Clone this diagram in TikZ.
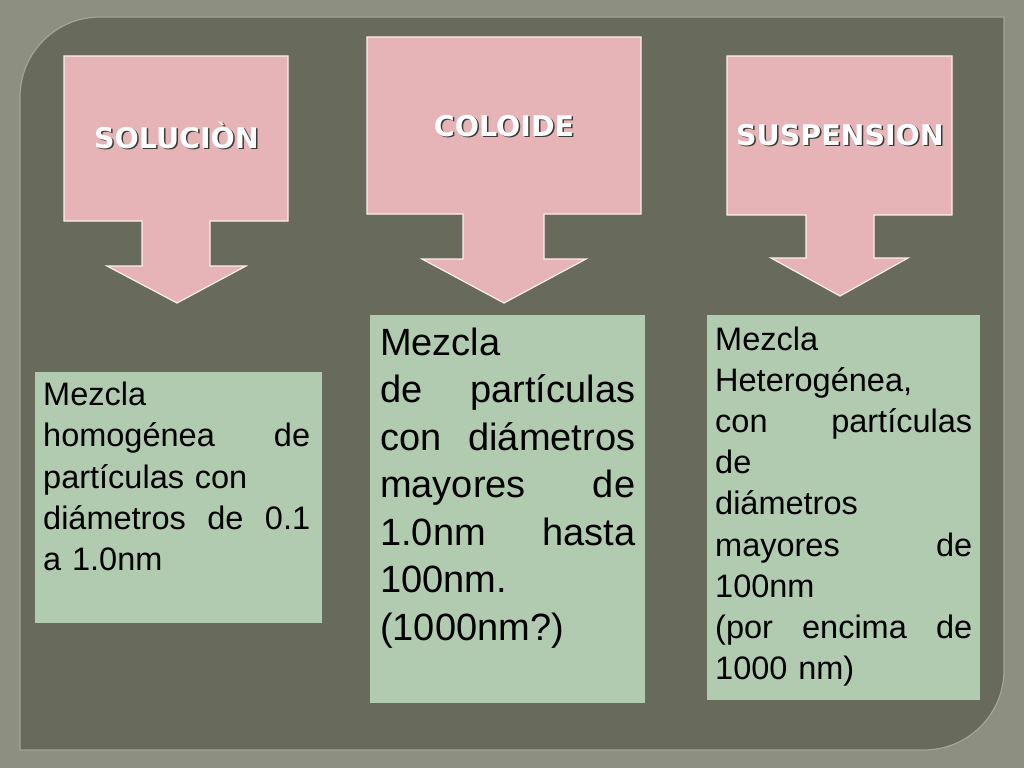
\documentclass[tikz,border=0pt]{standalone}
\usepackage{fontspec}
\setmainfont{Liberation Sans}
\newfontfamily\bodyfont{Liberation Sans}
\newfontfamily\titlefont{DejaVu Sans}
\definecolor{bgc}{HTML}{8D8F81}
\definecolor{panelc}{HTML}{686A5B}
\definecolor{rimc}{HTML}{A3A597}
\definecolor{pinkc}{HTML}{E6B4B7}
\definecolor{pinkline}{HTML}{FAEEEE}
\definecolor{greenc}{HTML}{B0CBAF}
\definecolor{shadowc}{HTML}{3A3A36}
\tikzset{
  callout/.style={fill=pinkc, draw=pinkline, line width=1.2pt, line join=miter},
  greenbox/.style={fill=greenc, draw=none, inner sep=0pt, anchor=north west},
  titletext/.style={text=white, inner sep=0pt, anchor=base, font=\titlefont\bfseries\fontsize{28.5}{32}\selectfont},
  titleshadow/.style={titletext, text=shadowc},
  bodytext/.style={inner sep=0pt, anchor=north west, align=left, text=black, font=\bodyfont\fontsize{32.5}{41.2}\selectfont},
  bigtext/.style={bodytext, font=\bodyfont\fontsize{38}{47.5}\selectfont}
}
\begin{document}
\begin{tikzpicture}[x=1pt,y=-1pt]
\useasboundingbox (0,0) rectangle (1024,768);
\fill[bgc] (0,0) rectangle (1024,768);
% panel
\path[fill=panelc, draw=rimc, line width=1.2pt]
  (100,17) -- (1004,17) -- (1004,670) arc[start angle=0,end angle=90,radius=80]
  -- (20,750) -- (20,97) arc[start angle=180,end angle=270,radius=80] -- cycle;
% callouts
\path[callout] (64,56) -- (288,56) -- (288,221) -- (210,221) -- (210,266) -- (246,266)
  -- (177,303) -- (107,266) -- (142,266) -- (142,221) -- (64,221) -- cycle;
\path[callout] (367,37) -- (641,37) -- (641,214) -- (544,214) -- (544,259) -- (586,259)
  -- (504,303) -- (422,259) -- (463,259) -- (463,214) -- (367,214) -- cycle;
\path[callout] (727,56) -- (952,56) -- (952,215) -- (874,215) -- (874,258) -- (908,258)
  -- (840,296) -- (771,258) -- (806,258) -- (806,215) -- (727,215) -- cycle;
% titles
\node[titleshadow] (tsolsh) at (178,149.5) {SOLUCIÒN};
\node[titletext] (tsol) at (176.5,148) {SOLUCIÒN};
\node[titleshadow] (tcolsh) at (505.5,137.5) {COLOIDE};
\node[titletext] (tcol) at (504,136) {COLOIDE};
\node[titleshadow] (tsussh) at (841.5,146.5) {SUSPENSION};
\node[titletext] (tsus) at (840,145) {SUSPENSION};
% green boxes
\node[greenbox, minimum width=287pt, minimum height=251pt] (bsol) at (35,372) {};
\node[greenbox, minimum width=275pt, minimum height=388pt] (bcol) at (370,315) {};
\node[greenbox, minimum width=273pt, minimum height=385pt] (bsus) at (707,315) {};
% texts
\node[bodytext, text width=267pt] (dsol) at (43,382) {Mezcla\\
homogénea\hfill de\\
partículas con\\
diámetros\hfill de\hfill 0.1\\
a 1.0nm};
\node[bigtext, text width=255pt] (dcol) at (380,327.3) {Mezcla\\
de\hfill partículas\\
con\hfill diámetros\\
mayores\hfill de\\
1.0nm\hfill hasta\\
100nm.\\
(1000nm?)};
\node[bodytext, text width=257pt] (dsus) at (715,326.3) {Mezcla\\
Heterogénea,\\
con\hfill partículas\\
de\\
diámetros\\
mayores\hfill de\\
100nm\\
(por\hfill encima\hfill de\\
1000 nm)};
\end{tikzpicture}
\end{document}
